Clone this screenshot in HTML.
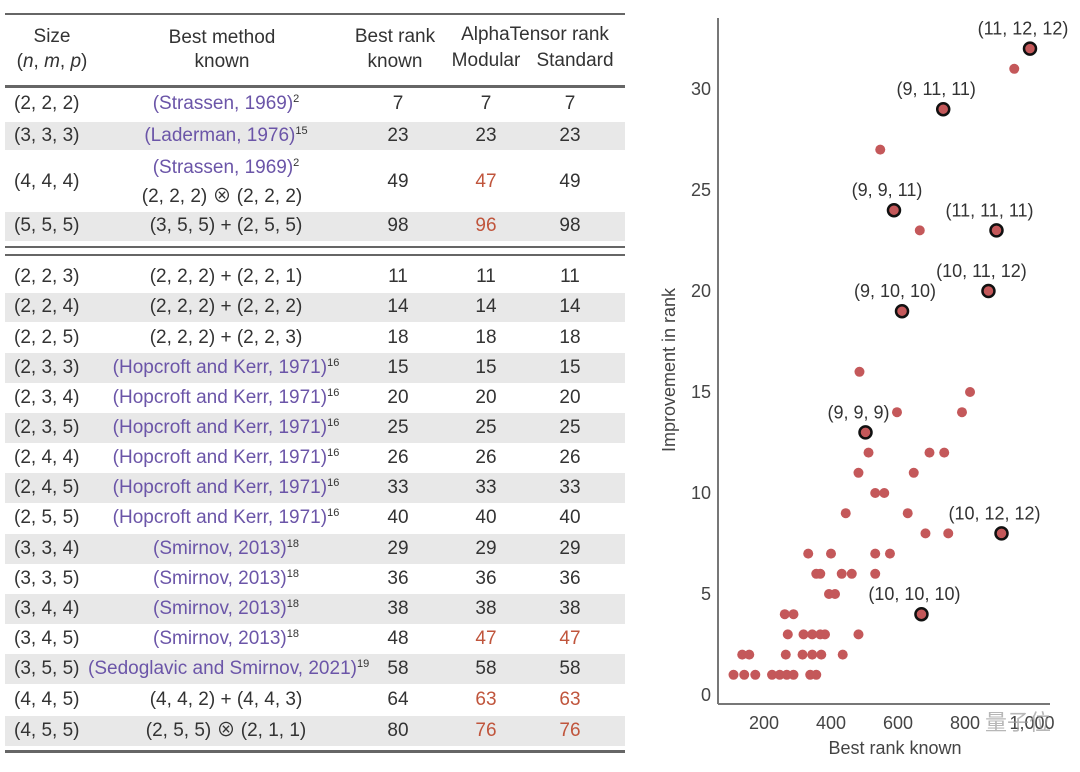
<!DOCTYPE html>
<html><head><meta charset="utf-8">
<style>
body{margin:0;width:1080px;height:772px;background:#fff;position:relative;overflow:hidden;font-family:"Liberation Sans","Noto Sans CJK SC",sans-serif;color:#333}
.c{position:absolute;font-size:19px;line-height:20px;white-space:nowrap;transform:translate(-50%,-50%)}
.l{position:absolute;font-size:19px;line-height:20px;white-space:nowrap;transform:translate(0,-50%)}
.p{color:#6b55a8}.r{color:#c0553c}
sup{font-size:11px;vertical-align:7px;line-height:0}
.hl{position:absolute;left:5px;width:620px;background:#666}
.band{position:absolute;left:5px;width:620px;background:#e8e8e8}
</style></head><body>
<div id="table"></div>
<svg id="chart" width="1080" height="772" style="position:absolute;left:0;top:0"></svg>
<script>
// table data
const sizes=["(2, 2, 2)","(3, 3, 3)","(4, 4, 4)","(5, 5, 5)","(2, 2, 3)","(2, 2, 4)","(2, 2, 5)","(2, 3, 3)","(2, 3, 4)","(2, 3, 5)","(2, 4, 4)","(2, 4, 5)","(2, 5, 5)","(3, 3, 4)","(3, 3, 5)","(3, 4, 4)","(3, 4, 5)","(3, 5, 5)","(4, 4, 5)","(4, 5, 5)"];
const methods=['<span class="p">(Strassen, 1969)</span><sup>2</sup>','<span class="p">(Laderman, 1976)</span><sup>15</sup>','','(3, 5, 5) + (2, 5, 5)','(2, 2, 2) + (2, 2, 1)','(2, 2, 2) + (2, 2, 2)','(2, 2, 2) + (2, 2, 3)','<span class="p">(Hopcroft and Kerr, 1971)</span><sup>16</sup>','<span class="p">(Hopcroft and Kerr, 1971)</span><sup>16</sup>','<span class="p">(Hopcroft and Kerr, 1971)</span><sup>16</sup>','<span class="p">(Hopcroft and Kerr, 1971)</span><sup>16</sup>','<span class="p">(Hopcroft and Kerr, 1971)</span><sup>16</sup>','<span class="p">(Hopcroft and Kerr, 1971)</span><sup>16</sup>','<span class="p">(Smirnov, 2013)</span><sup>18</sup>','<span class="p">(Smirnov, 2013)</span><sup>18</sup>','<span class="p">(Smirnov, 2013)</span><sup>18</sup>','<span class="p">(Smirnov, 2013)</span><sup>18</sup>','<span class="p">(Sedoglavic and Smirnov, 2021)</span><sup>19</sup>','(4, 4, 2) + (4, 4, 3)','(2, 5, 5) ⊗ (2, 1, 1)'];
const bestRank=[7,23,49,98,11,14,18,15,20,25,26,33,40,29,36,38,48,58,64,80];
const modular=[7,23,47,96,11,14,18,15,20,25,26,33,40,29,36,38,47,58,63,76];
const standard=[7,23,49,98,11,14,18,15,20,25,26,33,40,29,36,38,47,58,63,76];
const rowY=[104,136,182,226,277,307,338,368,398,428,458,488,518,549,579,609,639,669,700,731];
const T=document.getElementById('table');
function add(cls,html,x,y,name){const d=document.createElement('div');d.className=cls;d.innerHTML=html;d.style.left=x+'px';d.style.top=y+'px';


T.appendChild(d);return d;}
function line(y,h,name){const d=document.createElement('div');d.className='hl';d.style.top=y+'px';d.style.height=h+'px';


T.appendChild(d);}
[[122,150],[212,241],[293,322],[353,383],[413,443],[473,503],[534,564],[594,624],[654,684],[716,746]].forEach(b=>{const d=document.createElement('div');d.className='band';d.style.top=b[0]+'px';d.style.height=(b[1]-b[0])+'px';


T.appendChild(d);});
line(13,2,'table-top-rule');line(85,3,'header-rule');line(246,2,'section-rule-1');line(254,2,'section-rule-2');line(750,3,'table-bottom-rule');
add('c','Size',52,37,'header-size');add('c','(<i>n</i>, <i>m</i>, <i>p</i>)',52,62,'header-nmp');
add('c','Best method',222,38,'header-method');add('c','known',222,62,'header-method-known');
add('c','Best rank',395,37,'header-best-rank');add('c','known',395,62,'header-best-rank-known');
add('c','AlphaTensor rank',535,35,'header-alphatensor');add('c','Modular',486,61,'header-modular');add('c','Standard',575,61,'header-standard');
for(let i=0;i<sizes.length;i++){
 const y=rowY[i];
 add('l',sizes[i],14,y,'size-cell');
 if(i===2){add('c','<span class="p">(Strassen, 1969)</span><sup>2</sup>',226,168,'method-cell');add('c','(2, 2, 2) ⊗ (2, 2, 2)',222,197,'method-cell');}
 else if(i===17){add('l',methods[i],88,y,'method-cell');}
 else add('c',methods[i],226,y,'method-cell');
 add('c',bestRank[i],i===17?398:398,y,'best-rank-cell');
 add('c',modular[i],486,y,'modular-cell').classList.toggle('r',modular[i]<bestRank[i]);
 add('c',standard[i],570,y,'standard-cell').classList.toggle('r',standard[i]<bestRank[i]);
}
</script>
<script>
// scatter data
const xVals=[485,597,815,791,512,694,738,482,647,532,559,444,629,682,750,332,400,532,576,356,368,432,462,532,394,412,262,288,271,318,344,368,382,482,135,156,265,315,344,371,435,109,141,174,224,247,268,288,338,356,547,665,947];
const yVals=[16,14,15,14,12,12,12,11,11,10,10,9,9,8,8,7,7,7,7,6,6,6,6,6,5,5,4,4,3,3,3,3,3,3,2,2,2,2,2,2,2,1,1,1,1,1,1,1,1,1,27,23,31];
const hlX=[994,735,588,894,870,612,503,909,670];
const hlY=[32,29,24,23,20,19,13,8,4];
const hlLabels=["(11, 12, 12)","(9, 11, 11)","(9, 9, 11)","(11, 11, 11)","(10, 11, 12)","(9, 10, 10)","(9, 9, 9)","(10, 12, 12)","(10, 10, 10)"];
const xTicks=[200,400,600,800,1000];
const xTickLabels=["200","400","600","800","1,000"];
const yTicks=[0,5,10,15,20,25,30];
const NS='http://www.w3.org/2000/svg';
const S=document.getElementById('chart');
const X=v=>764+(v-200)*0.335;
const Y=v=>695-v*20.2;
function el(t,a){const e=document.createElementNS(NS,t);for(const k in a)e.setAttribute(k,a[k]);S.appendChild(e);return e;}
let e=el('line',{x1:718,y1:18,x2:718,y2:704,stroke:'#777','stroke-width':2});


e=el('line',{x1:718,y1:704,x2:1050,y2:704,stroke:'#777','stroke-width':2});


yTicks.forEach(t=>{const tx=el('text',{x:711,y:Y(t)+6,'text-anchor':'end','font-size':18,fill:'#444','font-family':'Liberation Sans, sans-serif'});tx.textContent=t;

});
xTicks.forEach((t,i)=>{const tx=el('text',{x:X(t),y:729,'text-anchor':'middle','font-size':18,fill:'#444','font-family':'Liberation Sans, sans-serif'});tx.textContent=xTickLabels[i];

});
e=el('text',{x:895,y:754,'text-anchor':'middle','font-size':18,fill:'#444','font-family':'Liberation Sans, sans-serif'});e.textContent='Best rank known';


e=el('text',{x:0,y:0,'text-anchor':'middle','font-size':18,fill:'#444','font-family':'Liberation Sans, sans-serif',transform:'translate(675,370) rotate(-90)'});e.textContent='Improvement in rank';


xVals.forEach((v,i)=>{const c=el('circle',{cx:X(v),cy:Y(yVals[i]),r:5,fill:'#c4585a'});

});
hlX.forEach((v,i)=>{const cx=X(v),cy=Y(hlY[i]);const c=el('circle',{cx:cx,cy:cy,r:6,fill:'#c4585a',stroke:'#111','stroke-width':2.5});


const t=el('text',{x:cx-7,y:cy-14,'text-anchor':'middle','font-size':18,fill:'#333','font-family':'Liberation Sans, sans-serif'});t.textContent=hlLabels[i];

});
e=el('text',{x:985,y:730,'font-size':22,fill:'#999','font-family':'Noto Sans CJK SC, sans-serif',opacity:0.7});e.textContent='量子位';


</script>
</body></html>
